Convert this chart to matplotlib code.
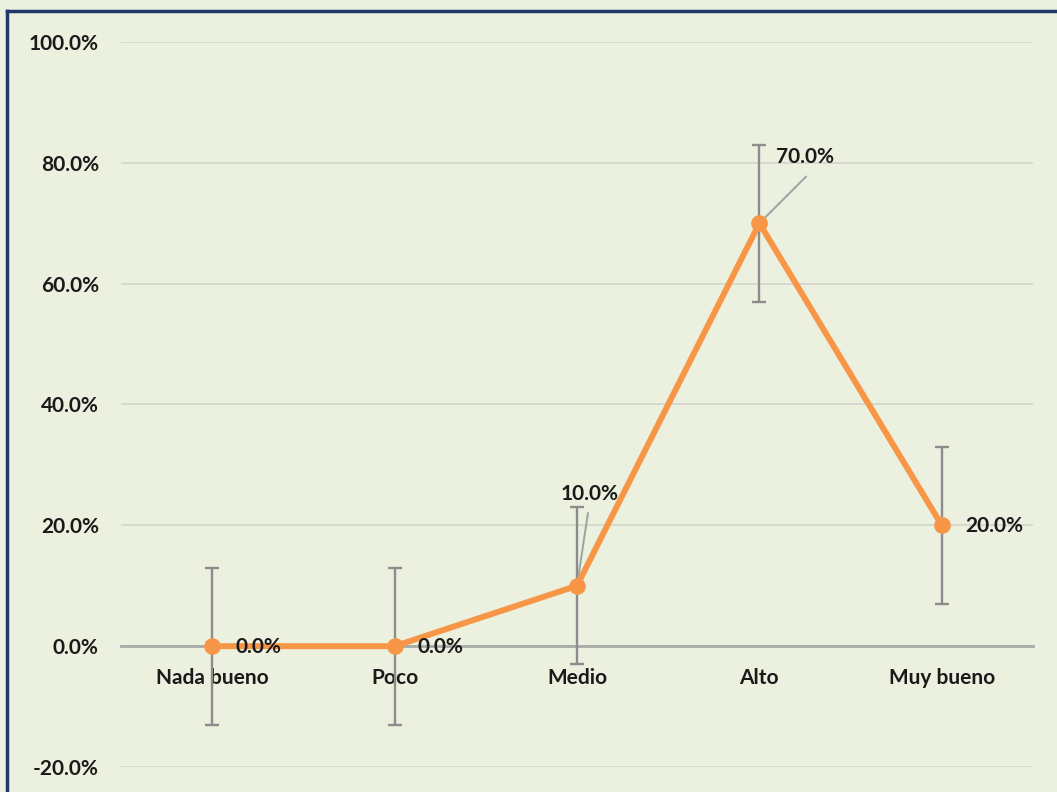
import matplotlib.pyplot as plt
from matplotlib.lines import Line2D
from matplotlib.ticker import PercentFormatter

categories = ['Nada bueno', 'Poco', 'Medio', 'Alto', 'Muy bueno']
values = [0.0, 0.0, 0.10, 0.70, 0.20]
errors = [0.13, 0.13, 0.13, 0.13, 0.13]
labels = ['0.0%', '0.0%', '10.0%', '70.0%', '20.0%']

bg = '#EBF1DE'
orange = '#F79646'
err_gray = '#8C8C8C'
txt = '#1A1A1A'
fs = 15

plt.rcParams['font.family'] = ['Lato', 'DejaVu Sans']
plt.rcParams['axes.unicode_minus'] = False

fig = plt.figure(figsize=(10.57, 7.92), dpi=100, facecolor=bg)
ax = fig.add_axes([121 / 1057, 25 / 792, 912 / 1057, 725 / 792])
ax.set_facecolor(bg)

x = list(range(len(categories)))
ax.errorbar(x, values, yerr=errors, fmt='none', ecolor=err_gray,
            elinewidth=1.7, capsize=5, capthick=1.7, zorder=2)
ax.plot(x, values, color=orange, lw=4.3, marker='o', ms=11,
        solid_capstyle='round', zorder=3)

ax.set_xlim(-0.5, len(categories) - 0.5)
ax.set_ylim(-0.2, 1.0)
ax.set_yticks([-0.2, 0.0, 0.2, 0.4, 0.6, 0.8, 1.0])
ax.yaxis.set_major_formatter(PercentFormatter(1.0, decimals=1))
ax.grid(axis='y', color='#D3D7CE', lw=1.3)
ax.set_axisbelow(True)

for s in ['top', 'right', 'left']:
    ax.spines[s].set_visible(False)
ax.spines['bottom'].set_position(('data', 0))
ax.spines['bottom'].set_color('#A8AAA6')
ax.spines['bottom'].set_linewidth(2)
ax.spines['bottom'].set_zorder(1)

ax.set_xticks(x, categories)
ax.tick_params(axis='x', length=0, pad=16, labelsize=fs, labelcolor=txt)
ax.tick_params(axis='y', length=0, pad=16, labelsize=fs, labelcolor=txt)
for t in ax.get_xticklabels() + ax.get_yticklabels():
    t.set_fontweight('bold')

# data labels
for i in (0, 1, 4):
    ax.annotate(labels[i], (x[i], values[i]), xytext=(23, -1),
                textcoords='offset pixels', ha='left', va='center',
                fontsize=fs, fontweight='bold', color=txt, zorder=4)

ax.annotate(labels[2], (x[2], values[2]), xytext=(2.07, 0.252),
            ha='center', va='center', fontsize=fs, fontweight='bold', color=txt,
            zorder=4)
ax.plot([2.06, x[2]], [0.22, values[2]], color='#9DA3A0', lw=1.4, zorder=2)

ax.annotate(labels[3], (x[3], values[3]), xytext=(3.25, 0.81),
            ha='center', va='center', fontsize=fs, fontweight='bold', color=txt,
            zorder=4)
ax.plot([3.255, x[3]], [0.777, values[3]], color='#9DA3A0', lw=1.4, zorder=2)

# chart frame (top and left edge of the outer border)
navy = '#1F3867'
fig.add_artist(Line2D([7 / 1057, 1.0], [1 - 11 / 792, 1 - 11 / 792],
                      color=navy, lw=2.5, transform=fig.transFigure))
fig.add_artist(Line2D([7 / 1057, 7 / 1057], [0.0, 1 - 11 / 792],
                      color=navy, lw=2.5, transform=fig.transFigure))

fig.savefig('out.png', dpi=100, facecolor=bg)
